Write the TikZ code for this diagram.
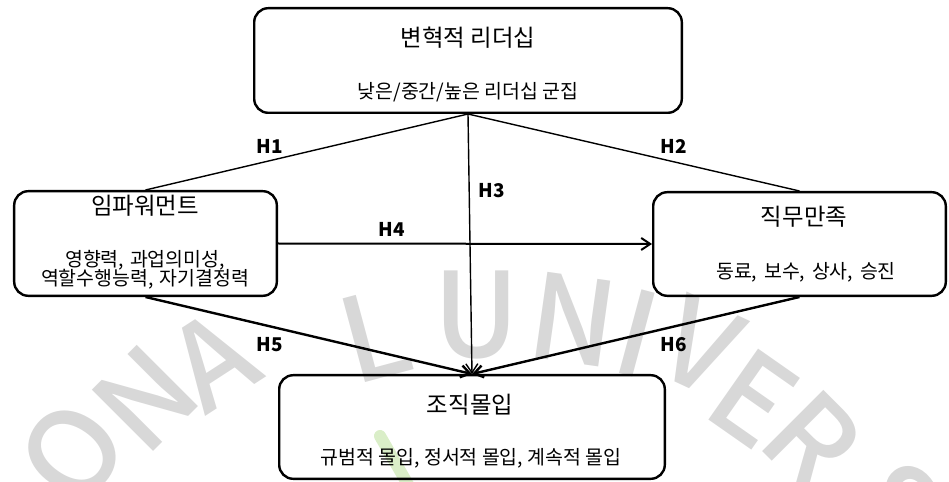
\documentclass[tikz,border=0pt]{standalone}
\usepackage{fontspec}
\setmainfont{Noto Sans CJK KR}
\newfontfamily\wmfont{Noto Sans CJK KR Medium}
\usetikzlibrary{arrows.meta}
\definecolor{wmgray}{RGB}{216,216,216}
\definecolor{wmgreen}{RGB}{218,238,200}
\begin{document}
\begin{tikzpicture}[x=1bp,y=-1bp,
  box/.style={draw, line width=2.4bp, rounded corners=14bp, inner sep=0pt},
  ttl/.style={font=\fontsize{23.5}{27}\selectfont, inner sep=0pt},
  sub/.style={font=\fontsize{19.5}{22}\selectfont, inner sep=0pt},
  hyp/.style={font=\bfseries\fontsize{19}{22}\selectfont, inner sep=0pt},
  thinline/.style={line width=1.4bp},
  arr/.style={-{Straight Barb[length=9bp,width=12bp]}},
  wm/.style={text=wmgray, font=\wmfont\fontsize{118}{118}\selectfont, inner sep=0pt}]
\useasboundingbox (0,0) rectangle (949,482);
% watermark
\node[wm, rotate=55] (wO) at (72,452) {O};
\node[wm, rotate=45] (wN1) at (145,398) {N};
\node[wm, rotate=33] (wA) at (213,360) {A};
\node[wm, rotate=15] (wL) at (375,335) {L};
\node[wm] (wU) at (477,315) {U};
\node[wm, rotate=-8] (wN2) at (573,320) {N};
\node[wm, rotate=-15] (wI) at (637,333) {I};
\node[wm, rotate=-25] (wV) at (700,346) {V};
\node[wm, rotate=-35] (wE) at (753,398) {E};
\node[wm, rotate=-45] (wR) at (812,440) {R};
\node[wm, rotate=-52] (wS) at (895,505) {S};
\draw[wmgreen, line width=12bp, line cap=round] (380,436) -- (410,488);
% boxes
\node[box, minimum width=427.6bp, minimum height=104.6bp] (top) at (468,60.5) {};
\node[box, minimum width=262.6bp, minimum height=104.6bp] (left) at (145.5,243.5) {};
\node[box, minimum width=292.6bp, minimum height=103.6bp] (right) at (799.5,244) {};
\node[box, minimum width=385.6bp, minimum height=103.6bp] (bot) at (472,427) {};
% texts
\node[ttl] (t1) at (468,38) {변혁적 리더십};
\node[sub] (s1) at (468,92) {낮은/중간/높은 리더십 군집};
\node[ttl] (t2) at (145,206) {임파워먼트};
\node[sub] (s2a) at (145,260) {영향력,\hspace{0.3em}과업의미성,};
\node[sub] (s2b) at (145,279) {역할수행능력,\hspace{0.3em}자기결정력};
\node[ttl] (t3) at (804,217) {직무만족};
\node[sub] (s3) at (806,272) {동료,\hspace{0.35em}보수,\hspace{0.35em}상사,\hspace{0.35em}승진};
\node[ttl] (t4) at (470,405) {조직몰입};
\node[sub] (s4) at (471,458) {규범적 몰입, 정서적 몰입, 계속적 몰입};
% connectors
\draw[thinline] (top.south) -- (left.north);
\draw[thinline] (top.south) -- (right.north);
\draw[thinline, arr] (top.south) -- (bot.north);
\draw[line width=2bp, arr] (left.east) -- (right.west);
\draw[line width=2.4bp, arr] (left.south) -- (bot.north);
\draw[line width=2.4bp, arr] (right.south) -- (bot.north);
% labels
\node[hyp] (h1) at (270,146) {H1};
\node[hyp] (h2) at (674,146) {H2};
\node[hyp] (h3) at (492,191) {H3};
\node[hyp] (h4) at (392,229.5) {H4};
\node[hyp] (h5) at (270,345) {H5};
\node[hyp] (h6) at (674,345) {H6};
\end{tikzpicture}
\end{document}
